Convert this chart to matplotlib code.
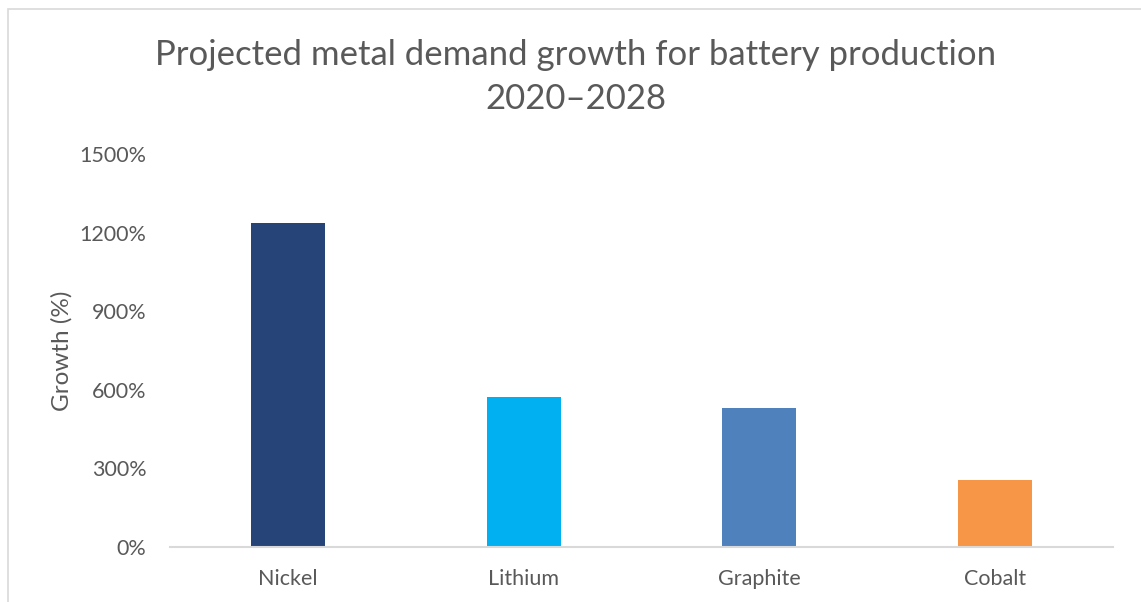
import matplotlib.pyplot as plt
from matplotlib.patches import Rectangle

# demand growth 2020-2028, percent
metals = ['Nickel', 'Lithium', 'Graphite', 'Cobalt']
growth = [1237, 572, 530, 256]
colors = ['#264478', '#00B0F0', '#4F81BD', '#F79646']
yticks = [0, 300, 600, 900, 1200, 1500]

plt.rcParams['font.family'] = ['Lato', 'DejaVu Sans']
txt = '#595959'

fig = plt.figure(figsize=(11.41, 6.02), dpi=100)
# chart frame
fig.patches.append(Rectangle((8 / 1141, -0.1), 1.2, 1 - 9 / 602 + 0.1,
                             transform=fig.transFigure, fill=False,
                             edgecolor='#D9D9D9', linewidth=1.2))

ax = fig.add_axes([170 / 1141, 55 / 602, (1113 - 170) / 1141, (547 - 154) / 602])
ax.bar(range(len(metals)), growth, width=0.314, color=colors)
ax.set_xlim(-0.5, len(metals) - 0.5)
ax.set_ylim(0, 1500)
ax.set_yticks(yticks)
ax.set_yticklabels([f'{v}%' for v in yticks])
ax.set_xticks(range(len(metals)))
ax.set_xticklabels(metals)
ax.tick_params(length=0, labelsize=15.5, colors=txt)
ax.tick_params(axis='y', pad=17)
ax.tick_params(axis='x', pad=16)
for s in ['top', 'right', 'left']:
    ax.spines[s].set_visible(False)
ax.spines['bottom'].set_color('#D9D9D9')
ax.spines['bottom'].set_linewidth(1.5)
ax.set_ylabel('Growth (%)', fontsize=17.5, color=txt, labelpad=5)

fig.text(576 / 1141, 1 - 77 / 602,
         'Projected metal demand growth for battery production\n2020\u20132028',
         ha='center', va='center', fontsize=25, color=txt, linespacing=1.45)

fig.savefig('out.png', dpi=100)
